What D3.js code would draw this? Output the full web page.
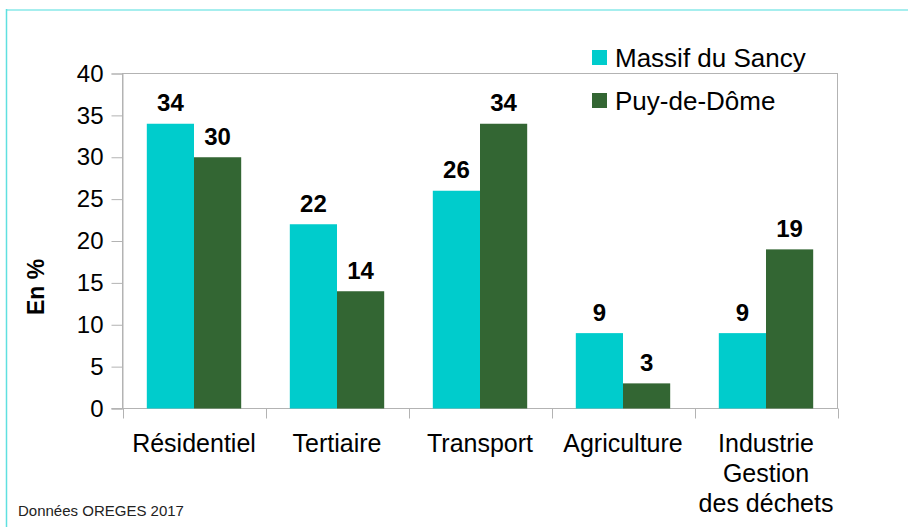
<!DOCTYPE html>
<html>
<head>
<meta charset="utf-8">
<script src="https://cdn.jsdelivr.net/npm/d3@7"></script>
<style>
  html, body { margin: 0; padding: 0; background: #fff; }
  svg { display: block; font-family: "Liberation Sans", Arial, sans-serif; }
</style>
</head>
<body>
<svg id="chart" width="908" height="527"></svg>
<script>
// Parts of greenhouse-gas emissions by sector
const categories = [
  ["Résidentiel"],
  ["Tertiaire"],
  ["Transport"],
  ["Agriculture"],
  ["Industrie", "Gestion", "des déchets"]
];
const seriesNames = ["Massif du Sancy", "Puy-de-Dôme"];
const sancy = [34, 22, 26, 9, 9];
const puy = [30, 14, 34, 3, 19];
const yTicks = [0, 5, 10, 15, 20, 25, 30, 35, 40];
const colors = ["#00cccc", "#336633"];

const svg = d3.select("#chart");
const W = 908, H = 527;
const plotL = 122.5, plotR = 837.5, plotT = 73.5, plotB = 408.5;

// Outer frame (top and left edges)
svg.append("line").attr("x1", 6).attr("x2", W).attr("y1", 10).attr("y2", 10)
  .attr("stroke", "#a6eeee").attr("stroke-width", 2);
svg.append("line").attr("x1", 6.5).attr("x2", 6.5).attr("y1", 9).attr("y2", H)
  .attr("stroke", "#5fe0e0").attr("stroke-width", 1.5);

const keys = categories.map((c, i) => i);
const x = d3.scaleBand().domain(keys).range([plotL, plotR]).paddingInner(0.34).paddingOuter(0.17);
const xs = d3.scaleBand().domain([0, 1]).range([0, x.bandwidth()]);
const y = d3.scaleLinear().domain([0, 40]).range([plotB, plotT]);

// Plot area frame
svg.append("rect").attr("x", plotL).attr("y", plotT)
  .attr("width", plotR - plotL).attr("height", plotB - plotT)
  .attr("fill", "none").attr("stroke", "#b3b3b3").attr("stroke-width", 1);

// Y axis
const yAxis = svg.append("g").attr("transform", `translate(${plotL},0)`)
  .call(d3.axisLeft(y).tickValues(yTicks).tickSize(11).tickPadding(8));
yAxis.select(".domain").attr("stroke", "#b3b3b3");
yAxis.selectAll(".tick line").attr("stroke", "#b3b3b3");
yAxis.selectAll(".tick text").attr("font-size", 24).attr("fill", "#000")
  .attr("font-family", "Liberation Sans, Arial, sans-serif");

// X axis
const xEdge = d3.scaleLinear().domain([0, categories.length]).range([plotL, plotR]);
const xAxis = svg.append("g").attr("transform", `translate(0,${plotB})`);
xAxis.append("line").attr("x1", plotL - 11).attr("x2", plotR).attr("y1", 0).attr("y2", 0)
  .attr("stroke", "#b3b3b3");
xAxis.selectAll("line.tk").data(d3.range(categories.length + 1)).join("line")
  .attr("class", "tk")
  .attr("x1", d => Math.round(xEdge(d)) + 0.5).attr("x2", d => Math.round(xEdge(d)) + 0.5)
  .attr("y1", 0).attr("y2", 10).attr("stroke", "#b3b3b3");
xAxis.selectAll("text.cat").data(categories).join("text")
  .attr("class", "cat")
  .attr("text-anchor", "middle")
  .attr("font-size", 25)
  .attr("fill", "#000")
  .attr("transform", (d, i) => `translate(${x(i) + x.bandwidth() / 2},43.5)`)
  .each(function(lines) {
    d3.select(this).selectAll("tspan").data(lines).join("tspan")
      .attr("x", 0).attr("y", (l, j) => j * 30).text(l => l);
  });

// Bars with value labels
const series = [sancy, puy];
series.forEach((vals, s) => {
  svg.append("g").selectAll("rect").data(vals).join("rect")
    .attr("x", (v, i) => x(i) + xs(s))
    .attr("y", v => y(v))
    .attr("width", xs.bandwidth())
    .attr("height", v => y(0) - y(v))
    .attr("fill", colors[s]);
  svg.append("g").selectAll("text").data(vals).join("text")
    .attr("x", (v, i) => x(i) + xs(s) + xs.bandwidth() / 2)
    .attr("y", v => y(v) - 12.5)
    .attr("text-anchor", "middle")
    .attr("font-size", 24)
    .attr("font-weight", "bold")
    .attr("fill", "#000")
    .text(v => v);
});

// Y title
svg.append("text")
  .attr("transform", "translate(44,287) rotate(-90)")
  .attr("text-anchor", "middle")
  .attr("font-size", 23)
  .attr("font-weight", "bold")
  .text("En %");

// Legend
const legend = svg.append("g").attr("transform", "translate(592,50)");
seriesNames.forEach((name, i) => {
  const g = legend.append("g").attr("transform", `translate(0,${i * 43})`);
  g.append("rect").attr("width", 15).attr("height", 15).attr("fill", colors[i]);
  g.append("text").attr("x", 23).attr("y", 16.5).attr("font-size", 26).attr("fill", "#000").text(name);
});

// Source
svg.append("text").attr("x", 18).attr("y", 516).attr("font-size", 15).attr("fill", "#222")
  .text("Données OREGES 2017");
</script>
</body>
</html>
